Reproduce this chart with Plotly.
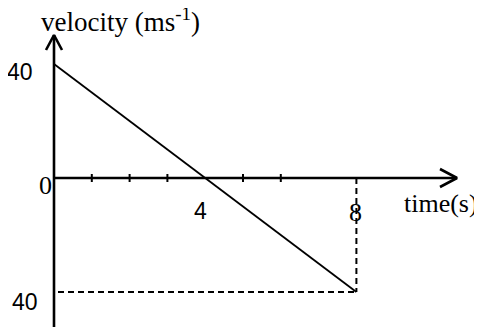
import plotly.graph_objects as go

# v-t graph data
time = [0, 8]
velocity = [40, -40]
tick_times = [1, 2, 3, 5, 6]
end_time = 8
end_velocity = -40

# pixel scale of the picture (px per unit); page body has an 8px margin
PAD = 8
W, H = 482 - PAD, 327 - PAD
X0, Y0 = 54 - PAD, 178 - PAD   # pixel of the origin inside the figure
PX_X, PX_Y = 37.8, 2.85        # px per second, px per ms-1


def dx(px):
    return px / PX_X


def dy(px):
    return px / PX_Y


x_top = dx(457 - 54)      # end of time axis
y_top = dy(178 - 35)      # end of velocity axis
y_bot = -dy(H - Y0 + 2)

fig = go.Figure()

black = dict(color="black", width=2.6)

# axes
fig.add_trace(go.Scatter(x=[0, x_top], y=[0, 0], mode="lines", line=black))
fig.add_trace(go.Scatter(x=[0, 0], y=[y_bot, y_top], mode="lines", line=black))

# arrow heads (open chevrons)
fig.add_trace(go.Scatter(x=[x_top - dx(17), x_top, x_top - dx(17)],
                         y=[dy(9), 0, -dy(9)], mode="lines", line=black))
fig.add_trace(go.Scatter(x=[-dx(8), 0, dx(8)],
                         y=[y_top - dy(15), y_top, y_top - dy(15)], mode="lines", line=black))

# small tick marks on time axis
tx, ty = [], []
for t in tick_times:
    tx += [t, t, None]
    ty += [-dy(4), dy(4), None]
fig.add_trace(go.Scatter(x=tx, y=ty, mode="lines", line=dict(color="black", width=2)))

# dashed guide lines
fig.add_trace(go.Scatter(x=[end_time, end_time], y=[0, end_velocity], mode="lines",
                         line=dict(color="black", width=2, dash="6px,4px")))
fig.add_trace(go.Scatter(x=[dx(4), end_time], y=[end_velocity, end_velocity], mode="lines",
                         line=dict(color="black", width=2, dash="6px,4px")))

# the graph itself
fig.add_trace(go.Scatter(x=time, y=velocity, mode="lines", line=dict(color="black", width=1.8)))

serif = dict(family="Liberation Serif", size=26, color="black")
sans = dict(family="Liberation Sans", size=23, color="black")


def label(text, px, py, font, xanchor="center"):
    # px, py are positions in the reference picture
    fig.add_annotation(x=dx(px - 54), y=dy(178 - py), text=text, showarrow=False, font=font,
                       xanchor=xanchor, yanchor="middle")


label("velocity (ms<sup>-1</sup>)", 39, 20, dict(serif, size=27), "left")
label("40", 35, 72, sans, "right")
label("0", 54, 185, serif, "right")
label("4", 200, 211, sans)
label("8", 355, 212, serif)
label("time(s)", 402, 203, serif, "left")
label("40", 40, 302, sans, "right")

fig.update_layout(
    width=W, height=H,
    margin=dict(l=0, r=0, t=0, b=0),
    paper_bgcolor="white", plot_bgcolor="white",
    showlegend=False,
    xaxis=dict(range=[-dx(X0), dx(W - X0)], visible=False, fixedrange=True),
    yaxis=dict(range=[-dy(H - Y0), dy(Y0)], visible=False, fixedrange=True),
)

fig.write_html("out.html", config={"displayModeBar": False})
